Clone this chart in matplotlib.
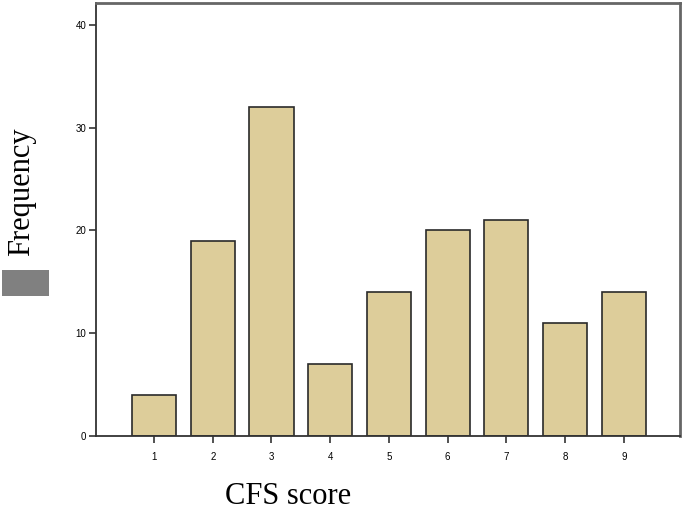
import matplotlib.pyplot as plt
import matplotlib.patches as mpatches

scores = [1, 2, 3, 4, 5, 6, 7, 8, 9]
freq = [4, 19, 32, 7, 14, 20, 21, 11, 14]
yticks = [0, 10, 20, 30, 40]

fig = plt.figure(figsize=(6.85, 5.12), dpi=100)
ax = fig.add_axes([0.140, 0.148, 0.853, 0.846])

ax.bar(scores, freq, width=0.75, color="#DDCD9A", edgecolor="#2a2a2a", linewidth=1.2, zorder=2)

ax.set_xlim(0.01, 9.96)
ax.set_ylim(0, 42.1)
ax.set_xticks(scores)
ax.set_yticks(yticks)
ax.tick_params(axis="both", direction="out", length=5, width=1.2, color="#333333",
               labelsize=7, pad=2)
for lab in ax.get_xticklabels() + ax.get_yticklabels():
    lab.set_family("Liberation Sans")
ax.tick_params(axis="x", pad=6)

for side in ["left", "bottom"]:
    ax.spines[side].set_color("#333333")
    ax.spines[side].set_linewidth(1.3)
for side in ["top", "right"]:
    ax.spines[side].set_color("#666666")
    ax.spines[side].set_linewidth(2)

fig.text(0.032, 0.625, "Frequency", rotation=90, ha="center", va="center",
         family="Liberation Serif", fontsize=22)
fig.text(0.42, 0.03, "CFS score", ha="center", va="center",
         family="Liberation Serif", fontsize=22)

# grey box under the y label
fig.patches.append(mpatches.Rectangle((0.003, 0.422), 0.068, 0.051, transform=fig.transFigure,
                                      facecolor="#808080", edgecolor="none"))

fig.savefig("out.png", dpi=100)
